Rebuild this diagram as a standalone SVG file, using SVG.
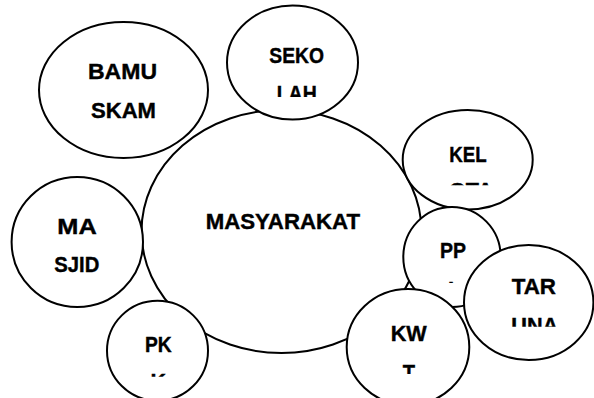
<svg xmlns="http://www.w3.org/2000/svg" width="594" height="398" viewBox="0 0 594 398">
  <style>
    .node { fill: #ffffff; stroke: #000000; stroke-width: 2; }
    .lbl { font-family: "Liberation Sans", Arial, sans-serif; font-weight: bold; font-size: 22px; fill: #000000; stroke: #000000; stroke-width: 0.4; }
  </style>
  <defs>
    <clipPath id="clip-sekolah"><rect x="0" y="0" width="594" height="97"/></clipPath>
    <clipPath id="clip-kel"><rect x="0" y="0" width="594" height="185.3"/></clipPath>
    <clipPath id="clip-pp"><rect x="0" y="0" width="594" height="283"/></clipPath>
    <clipPath id="clip-taruna"><rect x="0" y="0" width="594" height="326.7"/></clipPath>
    <clipPath id="clip-kwt"><rect x="0" y="0" width="594" height="374"/></clipPath>
    <clipPath id="clip-pkk"><rect x="0" y="0" width="594" height="376.7"/></clipPath>
  </defs>
  <rect x="0" y="0" width="594" height="398" fill="#ffffff"/>

  <g id="masyarakat">
    <ellipse class="node" cx="281.5" cy="231.5" rx="140" ry="121.5"/>
    <text class="lbl" x="205.7" y="229.3" textLength="154.3" lengthAdjust="spacingAndGlyphs">MASYARAKAT</text>
  </g>

  <g id="sekolah">
    <ellipse class="node" cx="292.5" cy="62.5" rx="65.5" ry="57"/>
    <text class="lbl" x="269.3" y="63.3" textLength="54.7" lengthAdjust="spacingAndGlyphs">SEKO</text>
    <text class="lbl" x="276.7" y="101" textLength="40" lengthAdjust="spacingAndGlyphs" clip-path="url(#clip-sekolah)">LAH</text>
  </g>

  <g id="bamuskam">
    <ellipse class="node" cx="123.5" cy="90" rx="84.5" ry="68"/>
    <text class="lbl" x="88" y="79.3" textLength="69" lengthAdjust="spacingAndGlyphs">BAMU</text>
    <text class="lbl" x="91" y="118.3" textLength="65" lengthAdjust="spacingAndGlyphs">SKAM</text>
  </g>

  <g id="masjid">
    <ellipse class="node" cx="77.3" cy="242" rx="65.7" ry="65"/>
    <text class="lbl" x="57.3" y="234" textLength="39.4" lengthAdjust="spacingAndGlyphs">MA</text>
    <text class="lbl" x="54.3" y="271.7" textLength="45" lengthAdjust="spacingAndGlyphs">SJID</text>
  </g>

  <g id="kelurahan">
    <ellipse class="node" cx="467.7" cy="159.7" rx="65" ry="49.8"/>
    <text class="lbl" x="449.3" y="161.7" textLength="37.4" lengthAdjust="spacingAndGlyphs">KEL</text>
    <text class="lbl" x="449" y="197.7" textLength="44" lengthAdjust="spacingAndGlyphs" clip-path="url(#clip-kel)">OTA</text>
  </g>

  <g id="pp">
    <ellipse class="node" cx="452" cy="257" rx="48.7" ry="50"/>
    <text class="lbl" x="440" y="258" textLength="26" lengthAdjust="spacingAndGlyphs">PP</text>
    <text class="lbl" x="448" y="297" clip-path="url(#clip-pp)">I</text>
  </g>

  <g id="taruna">
    <ellipse class="node" cx="528.7" cy="302.5" rx="64.7" ry="57.5"/>
    <text class="lbl" x="511.7" y="294" textLength="44.3" lengthAdjust="spacingAndGlyphs">TAR</text>
    <text class="lbl" x="511.3" y="333.3" textLength="47" lengthAdjust="spacingAndGlyphs" clip-path="url(#clip-taruna)">UNA</text>
  </g>

  <g id="kwt">
    <ellipse class="node" cx="408" cy="347" rx="61.3" ry="58"/>
    <text class="lbl" x="390.7" y="341" textLength="36" lengthAdjust="spacingAndGlyphs">KW</text>
    <text class="lbl" x="402.7" y="380.3" textLength="12.3" lengthAdjust="spacingAndGlyphs" clip-path="url(#clip-kwt)">T</text>
  </g>

  <g id="pkk">
    <ellipse class="node" cx="157.5" cy="350.7" rx="50.5" ry="50"/>
    <text class="lbl" x="145" y="351.7" textLength="26.7" lengthAdjust="spacingAndGlyphs">PK</text>
    <text class="lbl" x="150.5" y="388.7" textLength="15.5" lengthAdjust="spacingAndGlyphs" clip-path="url(#clip-pkk)">K</text>
  </g>
</svg>
